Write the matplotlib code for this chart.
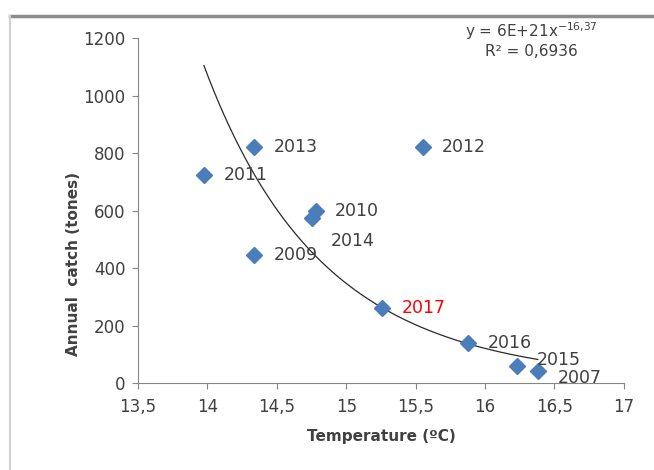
import numpy as np
import matplotlib
matplotlib.use('Agg')
import matplotlib.pyplot as plt
from matplotlib.lines import Line2D

plt.rcParams['font.family'] = ['DejaVu Sans']

# -------------------
#    Data
# -------------------
years = ['2011', '2013', '2012', '2010', '2014', '2009', '2017', '2016', '2015', '2007']
temperature = [13.975, 14.335, 15.55, 14.78, 14.75, 14.335, 15.26, 15.88, 16.23, 16.38]
catch = [725, 820, 820, 600, 575, 445, 260, 140, 60, 42]

# label offsets in points (dx, dy) relative to each marker
label_offset = {'2014': (14, -17), '2015': (14, 4), '2007': (14, -5), '2010': (14, 0)}

# trendline as reported by the spreadsheet: y = 6E+21 x^-16,37
coef = 6.2e21
expo = -16.37

text_col = '#404040'
blue = '#4A7EBB'

fig = plt.figure(figsize=(6.54, 4.70), dpi=100)
ax = fig.add_axes([0.211, 0.185, 0.743, 0.734])

# trendline over the data range
xt = np.linspace(min(temperature), max(temperature), 200)
ax.plot(xt, coef * xt**expo, c='#2a2a2a', lw=0.9, zorder=1)

ax.plot(temperature, catch, 'D', c=blue, markersize=8.5, lw=0, zorder=2)

for yr, tx, cy in zip(years, temperature, catch):
    dx, dy = label_offset.get(yr, (14, 0))
    ax.annotate(yr, (tx, cy), xytext=(dx, dy), textcoords='offset points',
                ha='left', va='center', fontsize=12.5,
                color='red' if yr == '2017' else text_col, zorder=3)

ax.text(0.81, 1.02, 'y = 6E+21x$^{\\mathregular{-16{,}37}}$', transform=ax.transAxes,
        ha='center', va='center', fontsize=11, color=text_col)
ax.text(0.81, 0.96, 'R² = 0,6936', transform=ax.transAxes,
        ha='center', va='center', fontsize=11, color=text_col)

ax.set_xlim(13.5, 17)
ax.set_ylim(0, 1200)
ax.set_xticks(np.arange(13.5, 17.01, 0.5))
ax.set_xticklabels(['13,5', '14', '14,5', '15', '15,5', '16', '16,5', '17'])
ax.set_yticks(np.arange(0, 1201, 200))

for s in ['top', 'right']:
    ax.spines[s].set_visible(False)
for s in ['left', 'bottom']:
    ax.spines[s].set_color('#868686')
    ax.spines[s].set_linewidth(0.8)
ax.tick_params(axis='both', colors='#868686', labelcolor=text_col, labelsize=12,
               length=4, direction='out')
ax.tick_params(axis='x', pad=7)
ax.tick_params(axis='y', pad=5)

ax.set_xlabel('Temperature (ºC)', fontsize=11, fontweight='bold', color=text_col, labelpad=9)
ax.set_ylabel('Annual  catch (tones)', fontsize=11, fontweight='bold', color=text_col, labelpad=10)
ax.yaxis.set_label_coords(-0.118, 0.345)

# outer chart frame (partly cropped in the original)
fig.add_artist(Line2D([10/654, 1], [1-16/470, 1-16/470], color='#8c8c8c', lw=2.5))
fig.add_artist(Line2D([10/654, 10/654], [0, 1-16/470], color='#d0d0d0', lw=1.5))

plt.savefig('out.png', dpi=100)
plt.close()
